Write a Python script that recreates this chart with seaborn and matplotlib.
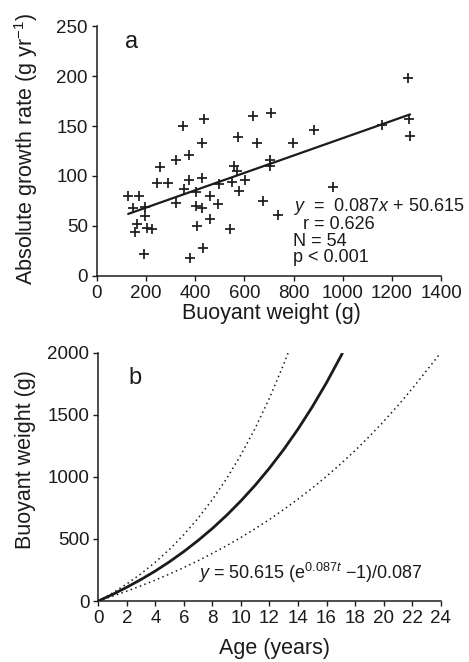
import numpy as np
import pandas as pd
import seaborn as sns
import matplotlib.pyplot as plt

# panel a: buoyant weight (g) vs absolute growth rate (g/yr)
weight = [127, 171, 145, 195, 195, 161, 155, 202, 222, 191,
          256, 321, 373, 243, 290, 321, 354, 376, 426, 403,
          403, 429, 408, 430, 379, 460, 494, 460, 498, 548,
          558, 568, 579, 602, 541, 674, 704, 704, 735, 959,
          426, 652, 799, 351, 437, 575, 636, 707, 883, 1160,
          1267, 1271, 1274]
growth = [80, 80, 68, 69, 60, 52, 44, 48, 47, 22,
          109, 116, 121, 93, 93, 73, 87, 96, 98, 84,
          70, 68, 50, 28, 18, 80, 72, 57, 92, 94,
          110, 105, 85, 96, 47, 75, 116, 110, 61, 89,
          133, 133, 133, 150, 157, 139, 160, 163, 146, 151,
          198, 157, 140]

# panel b: growth curve (solid) and the two dotted bounds, buoyant weight (g) by age
fit_age = [0, 1, 2, 3, 4, 5, 6, 7, 8, 9, 10, 11, 12, 13, 14, 15, 16, 17, 17.1]
fit_weight = [0, 53, 111, 174, 242, 317, 399, 488, 585, 691, 807, 933,
              1071, 1221, 1385, 1564, 1759, 1972, 1994]
upper_age = [0, 1, 2, 3, 4, 5, 6, 7, 8, 9, 10, 11, 12, 13, 13.3]
upper_weight = [0, 65, 138, 220, 313, 417, 535, 668, 818, 987, 1178, 1392,
                1635, 1908, 1996]
lower_age = list(range(25))
lower_weight = [0, 39, 80, 123, 169, 218, 270, 325, 384, 446, 512, 583, 657,
                737, 821, 910, 1005, 1105, 1212, 1326, 1446, 1574, 1710, 1854,
                2000]

stats_lines = ['$y$  =  0.087$x$ + 50.615', '  r = 0.626', 'N = 54', 'p < 0.001']

ink = '#1c1a1b'

sns.set_theme(style="ticks")
plt.rcParams['font.family'] = ['Liberation Sans', 'DejaVu Sans']
plt.rcParams['mathtext.fontset'] = 'custom'
plt.rcParams['mathtext.rm'] = 'Liberation Sans'
plt.rcParams['mathtext.it'] = 'Liberation Sans:italic'
plt.rcParams['text.color'] = ink
plt.rcParams['axes.labelcolor'] = ink

fig = plt.figure(figsize=(4.69, 6.62), dpi=100)
ax1 = fig.add_axes([0.2068, 0.5831, 0.7335, 0.3776])
ax2 = fig.add_axes([0.2096, 0.0921, 0.7300, 0.3751])

# ---- panel a
df = pd.DataFrame({'weight': weight, 'growth': growth})
sns.regplot(data=df, x='weight', y='growth', ax=ax1, ci=None, marker='+',
            scatter_kws={'s': 60, 'color': ink, 'linewidths': 1.25, 'alpha': 1},
            line_kws={'color': ink, 'lw': 1.6})
ax1.set_xlim(0, 1400)
ax1.set_ylim(0, 250)
ax1.set_xticks(np.arange(0, 1401, 200))
ax1.set_yticks(np.arange(0, 251, 50))
ax1.set_xlabel('Buoyant weight (g)', fontsize=15.5, va='center')
ax1.set_ylabel('Absolute growth rate (g yr$^{\u22121}$)', fontsize=15.5, va='center')
ax1.xaxis.set_label_coords(0.506, -0.152)
ax1.yaxis.set_label_coords(-0.206, 0.508)
ax1.text(114, 234, 'a', fontsize=17, va='center')
ax1.text(798, 80, '\n'.join(stats_lines), fontsize=13, va='top',
         linespacing=0.95)

# ---- panel b
sns.lineplot(x=fit_age, y=fit_weight, ax=ax2, color=ink, lw=2.0, sort=False)
sns.lineplot(x=upper_age, y=upper_weight, ax=ax2, color=ink, lw=1.1,
             linestyle=(0, (1, 2.2)), sort=False)
sns.lineplot(x=lower_age, y=lower_weight, ax=ax2, color=ink, lw=1.1,
             linestyle=(0, (1, 2.2)), sort=False)
ax2.set_xlim(0, 24)
ax2.set_ylim(0, 2000)
ax2.set_xticks(np.arange(0, 25, 2))
ax2.set_yticks(np.arange(0, 2001, 500))
ax2.set_xlabel('Age (years)', fontsize=15.5, va='center')
ax2.set_ylabel('Buoyant weight (g)', fontsize=15.5, va='center')
ax2.xaxis.set_label_coords(0.515, -0.19)
ax2.yaxis.set_label_coords(-0.214, 0.568)
ax2.text(2.1, 1795, 'b', fontsize=17, va='center')
ax2.text(7.0, 225, '$y$ = 50.615 (e$^{0.087\\mathit{t}}$ \u22121)/0.087',
         fontsize=13, va='center')

for ax in (ax1, ax2):
    sns.despine(ax=ax)
    ax.spines['left'].set_color(ink)
    ax.spines['bottom'].set_color(ink)
    ax.spines['left'].set_linewidth(1.1)
    ax.spines['bottom'].set_linewidth(1.1)
    ax.tick_params(direction='out', length=3.5, width=1, colors=ink,
                   labelsize=13.5, pad=3)

fig.savefig('out.png', dpi=100)
